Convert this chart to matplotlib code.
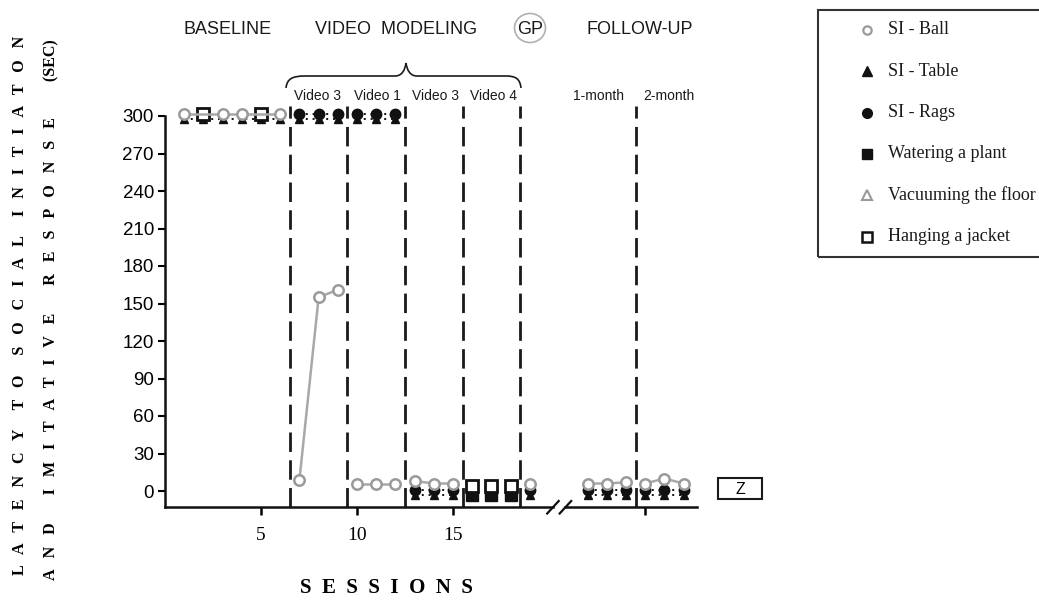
"""
Latency to social initiation / imitative response across sessions
(multiple-baseline style chart with a broken x axis).
"""

import numpy as np
import matplotlib.pyplot as plt
from matplotlib.lines import Line2D
from matplotlib.patches import Rectangle, Ellipse, PathPatch
from matplotlib.path import Path

# =============================================================================
# Data
# =============================================================================

# SI - Ball (grey open circles)
BALL_X = [1, 3, 4, 6, 7, 8, 9, 10, 11, 12, 13, 14, 15, 19, 22, 23, 24, 25, 26, 27]
BALL_Y = [302, 302, 302, 302, 9, 155, 161, 6, 6, 6, 8, 6, 6, 6, 6, 6, 7, 6, 10, 6]

# SI - Table (black triangles, mostly hidden under other markers)
TABLE_X = [1, 2, 3, 4, 5, 6, 7, 8, 9, 10, 11, 12, 13, 14, 15, 19, 22, 23, 24, 25, 26, 27]
TABLE_Y = [298] * 12 + [-3] * 10

# SI - Rags (black filled circles)
RAGS_X = [7, 8, 9, 10, 11, 12, 13, 14, 15, 19, 22, 23, 24, 25, 26, 27]
RAGS_Y = [302] * 6 + [1] * 10

# Watering a plant (black filled squares)
WATER_X = [16, 17, 18]
WATER_Y = [-3, -3, -3]

# Hanging a jacket (open squares)
JACKET_X = [2, 5, 16, 17, 18]
JACKET_Y = [302, 302, 4, 4, 4]

# Phase-change lines (between sessions)
PHASE_LINES = [6.5, 9.5, 12.5, 15.5, 18.5, 24.5]
Y_TICKS = list(range(0, 301, 30))
X_TICKS = [5, 10, 15, 25]
X_TICK_LABELS = ["5", "10", "15", ""]

# =============================================================================
# Layout helpers
# =============================================================================

W, H = 1039, 604
GREY = "#9a9a9a"
SERIF = "Liberation Serif"
SANS = "Liberation Sans"
X_MIN, X_MAX = 0.0, 27.7
Y_MIN, Y_MAX = -13, 310
BREAK = (20.2, 20.85)


def fx(px):
    return px / W


def fy(py):
    return 1 - py / H


def split_by_phase(xs, ys):
    """Yield runs of points that do not cross a phase line or the axis break."""
    edges = PHASE_LINES + [BREAK[0]]
    run_x, run_y = [], []
    for x, y in zip(xs, ys):
        if run_x and any(run_x[-1] < e < x for e in edges):
            yield run_x, run_y
            run_x, run_y = [], []
        run_x.append(x)
        run_y.append(y)
    if run_x:
        yield run_x, run_y


def draw_series(ax, xs, ys, line_kw, marker_kw, z):
    for rx, ry in split_by_phase(xs, ys):
        if line_kw is not None:
            ax.plot(rx, ry, zorder=z, clip_on=False, **line_kw)
        ax.plot(rx, ry, linestyle="none", zorder=z + 0.5, clip_on=False, **marker_kw)


def spaced(text, gap="   ", word_gap="      "):
    return word_gap.join(gap.join(w) for w in text.split())


# =============================================================================
# Figure
# =============================================================================

fig = plt.figure(figsize=(W / 100, H / 100), dpi=100)
ax = fig.add_axes([fx(165), fy(507.25), fx(697) - fx(165), fy(103.5) - fy(507.25)])
ax.set_xlim(X_MIN, X_MAX)
ax.set_ylim(Y_MIN, Y_MAX)

# axes styling
for side in ("top", "right"):
    ax.spines[side].set_visible(False)
ax.spines["left"].set_bounds(Y_MIN, 300)
ax.spines["bottom"].set_bounds(X_MIN, BREAK[0])
for side in ("left", "bottom"):
    ax.spines[side].set_linewidth(1.8)
    ax.spines[side].set_color("#111111")
ax.plot([BREAK[1], X_MAX], [Y_MIN, Y_MIN], color="#111111", lw=1.8, clip_on=False)
for bx in BREAK:
    ax.plot([bx - 0.3, bx + 0.3], [Y_MIN - 5, Y_MIN + 5], color="#111111", lw=1.6,
            clip_on=False)

ax.set_yticks(Y_TICKS)
ax.set_xticks(X_TICKS)
ax.set_xticklabels(X_TICK_LABELS)
ax.tick_params(axis="y", direction="out", length=5, width=1.5, labelsize=13.5, pad=3)
ax.tick_params(axis="x", direction="out", length=6, width=1.8, labelsize=14, pad=8)
for lab in ax.get_yticklabels():
    lab.set_family(SANS)
for lab in ax.get_xticklabels():
    lab.set_family(SERIF)

# phase-change lines
for px_ in PHASE_LINES:
    ax.plot([px_, px_], [Y_MIN, 308], color="#1a1a1a", lw=2.0,
            dashes=(7, 3), zorder=2, clip_on=False)

# data series
dot_line = dict(color="#111111", lw=1.4, dashes=(1, 2.5))
draw_series(ax, TABLE_X, TABLE_Y, dot_line,
            dict(marker="^", ms=6, color="#111111"), 3)
draw_series(ax, WATER_X, WATER_Y, None,
            dict(marker="s", ms=8, color="#111111"), 4)
draw_series(ax, RAGS_X, RAGS_Y, dot_line,
            dict(marker="o", ms=7.5, color="#111111"), 5)
draw_series(ax, JACKET_X, JACKET_Y, None,
            dict(marker="s", ms=8, mfc="white", mec="#111111", mew=2.0), 6)
draw_series(ax, BALL_X, BALL_Y, dict(color="#a8a8a8", lw=1.8),
            dict(marker="o", ms=7.5, mfc="white", mec=GREY, mew=1.8), 7)

# =============================================================================
# Annotations
# =============================================================================

for label, cx in [("BASELINE", 228), ("VIDEO  MODELING", 396), ("FOLLOW-UP", 640)]:
    fig.text(fx(cx), fy(29), label, ha="center", va="center", family=SANS,
             fontsize=13, color="#1a1a1a")
fig.text(fx(530), fy(29), "GP", ha="center", va="center", family=SANS,
         fontsize=13, color="#1a1a1a")
fig.add_artist(Ellipse((fx(530), fy(28)), fx(31), 29 / H, transform=fig.transFigure,
                       fill=False, ec="#b0b0b0", lw=1.2))

for label, cx in [("Video 3", 318), ("Video 1", 377), ("Video 3", 435), ("Video 4", 493),
                  ("1-month", 598), ("2-month", 669)]:
    fig.text(fx(cx), fy(96), label, ha="center", va="center", family=SANS,
             fontsize=10, color="#1a1a1a")

# curly brace over the video modeling phases
brace_pts = [(286, 88), (287, 79), (292, 76), (305, 76),
             (395, 76), (402, 76), (405, 70), (406, 63),
             (407, 70), (410, 76), (417, 76),
             (506, 76), (516, 76), (520, 79), (521, 88)]
brace_codes = [Path.MOVETO, Path.CURVE4, Path.CURVE4, Path.CURVE4,
               Path.LINETO, Path.CURVE4, Path.CURVE4, Path.CURVE4,
               Path.CURVE4, Path.CURVE4, Path.CURVE4,
               Path.LINETO, Path.CURVE4, Path.CURVE4, Path.CURVE4]
brace = Path([(fx(x), fy(y)) for x, y in brace_pts], brace_codes)
fig.add_artist(PathPatch(brace, fill=False, lw=1.2, ec="#1a1a1a",
                         transform=fig.transFigure))

# Z box
fig.add_artist(Rectangle((fx(718), fy(499)), fx(44), 21 / H, transform=fig.transFigure,
                         fill=False, ec="#1a1a1a", lw=1.5))
fig.text(fx(740), fy(489), "Z", ha="center", va="center", family=SANS, fontsize=11.5)

# axis titles
fig.text(fx(20), fy(305), spaced("LATENCY TO SOCIAL INITIATON", word_gap="     "),
         rotation=90, ha="center", va="center", family=SERIF, weight="bold", fontsize=11.5)
fig.text(fx(51), fy(310),
         spaced("AND IMITATIVE RESPONSE", word_gap="       ") + "         (SEC)",
         rotation=90, ha="center", va="center", family=SERIF, weight="bold", fontsize=11.5)
fig.text(fx(386), fy(588), spaced("SESSIONS", gap="  "), ha="center", va="center",
         family=SERIF, weight="bold", fontsize=15)

# legend drawn by hand so its frame can run off the right edge
fig.add_artist(Rectangle((fx(818), fy(257)), fx(240), 247 / H, transform=fig.transFigure,
                         fill=False, ec="#333333", lw=1.5, clip_on=False))
legend_items = [
    ("SI - Ball", dict(marker="o", ms=6, mfc="white", mec=GREY, mew=1.6)),
    ("SI - Table", dict(marker="^", ms=7, color="#111111")),
    ("SI - Rags", dict(marker="o", ms=7, color="#111111")),
    ("Watering a plant", dict(marker="s", ms=7, color="#111111")),
    ("Vacuuming the floor", dict(marker="^", ms=7, mfc="white", mec=GREY, mew=1.5)),
    ("Hanging a jacket", dict(marker="s", ms=6.5, mfc="white", mec="#111111", mew=1.8)),
]
for i, (label, mk) in enumerate(legend_items):
    ly = 30 + i * 41.3
    fig.add_artist(Line2D([fx(867)], [fy(ly)], linestyle="none",
                          transform=fig.transFigure, **mk))
    fig.text(fx(888), fy(ly), label, ha="left", va="center", family=SERIF,
             fontsize=13, color="#1a1a1a")

fig.savefig("out.png", dpi=100)
